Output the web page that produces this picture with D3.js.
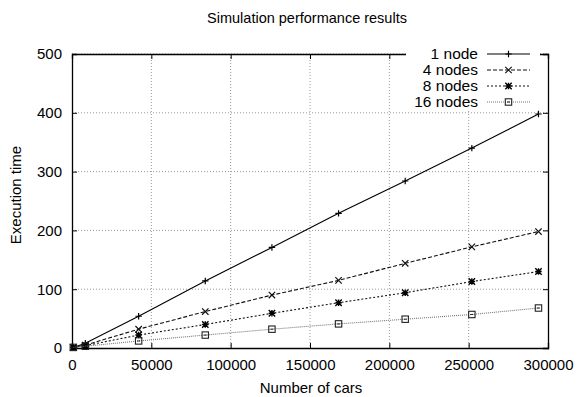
<!DOCTYPE html>
<html><head><meta charset="utf-8">
<script src="https://cdn.jsdelivr.net/npm/d3@7"></script>
<style>body{margin:0;background:#fff}svg{display:block}text{font-family:"Liberation Sans",Arial,sans-serif;fill:#000}</style>
</head><body><svg id="c" width="578" height="397"></svg>
<script>
const cars = [840, 8400, 42000, 84000, 126000, 168000, 210000, 252000, 294000];
const node1 = [1, 8, 54, 114, 171, 229, 284, 340, 398];
const node4 = [1, 5, 32, 62, 90, 115, 144, 172, 198];
const node8 = [1, 4, 22, 40, 59, 77, 94, 113, 130];
const node16 = [1, 3, 12, 22, 32, 41, 49, 57, 68];
const seriesNames = ["1 node", "4 nodes", "8 nodes", "16 nodes"];
const xTicks = [0, 50000, 100000, 150000, 200000, 250000, 300000];
const yTicks = [0, 100, 200, 300, 400, 500];

const svg = d3.select("#c");
const L = 72, R = 548, T = 54, B = 348;
const x = d3.scaleLinear().domain([0, 300000]).range([L, R]);
const y = d3.scaleLinear().domain([0, 500]).range([B, T]);

// grid
const g = svg.append("g");
g.selectAll(".gx").data(xTicks.slice(1, -1)).join("line")
  .attr("x1", d => x(d)).attr("x2", d => x(d)).attr("y1", T).attr("y2", B)
  .attr("stroke", "#999").attr("stroke-width", 1).attr("stroke-dasharray", "1,2");
g.selectAll(".gy").data(yTicks.slice(1, -1).concat([500])).join("line")
  .attr("x1", L).attr("x2", R).attr("y1", d => y(d)).attr("y2", d => y(d))
  .attr("stroke", "#999").attr("stroke-width", 1).attr("stroke-dasharray", "1,2");

// axes with inward ticks
const ax = svg.append("g");
ax.append("g").attr("transform", `translate(0,${B})`)
  .call(d3.axisBottom(x).tickValues(xTicks).tickSize(-5).tickPadding(11).tickFormat(d3.format("d")));
ax.append("g").attr("transform", `translate(0,${T})`)
  .call(d3.axisTop(x).tickValues(xTicks).tickSize(-5).tickFormat(""));
ax.append("g").attr("transform", `translate(${L},0)`)
  .call(d3.axisLeft(y).tickValues(yTicks).tickSize(-5).tickPadding(10).tickFormat(d3.format("d")));
ax.append("g").attr("transform", `translate(${R},0)`)
  .call(d3.axisRight(y).tickValues(yTicks).tickSize(-5).tickFormat(""));
ax.selectAll(".domain").attr("stroke", "#000").attr("stroke-width", 1.3);
ax.selectAll(".tick line").attr("stroke", "#000");
ax.selectAll("text").style("font-size", "15px").attr("font-family", "Liberation Sans, Arial, sans-serif");

const styles = [
  {color: "#000", dash: null, w: 1.1, m: "plus"},
  {color: "#111", dash: "4,2", w: 1.1, m: "cross"},
  {color: "#111", dash: "2,2", w: 1.1, m: "star"},
  {color: "#777", dash: "1,1", w: 1.1, m: "square"}
];
const data = [node1, node4, node8, node16];

function marker(sel, type, cx, cy, col) {
  const s = 3.2;
  if (type === "plus") {
    sel.append("path").attr("d", `M${cx-s},${cy}H${cx+s}M${cx},${cy-s}V${cy+s}`).attr("stroke", col).attr("stroke-width", 1.2);
  } else if (type === "cross") {
    sel.append("path").attr("d", `M${cx-s},${cy-s}L${cx+s},${cy+s}M${cx-s},${cy+s}L${cx+s},${cy-s}`).attr("stroke", col).attr("stroke-width", 1.2);
  } else if (type === "star") {
    sel.append("path").attr("d", `M${cx-s},${cy}H${cx+s}M${cx},${cy-s}V${cy+s}M${cx-s},${cy-s}L${cx+s},${cy+s}M${cx-s},${cy+s}L${cx+s},${cy-s}`).attr("stroke", "#000").attr("stroke-width", 1.4);
  } else {
    sel.append("rect").attr("x", cx-s).attr("y", cy-s).attr("width", 2*s).attr("height", 2*s)
      .attr("fill", "none").attr("stroke", "#222").attr("stroke-width", 1.1);
    sel.append("line").attr("x1", cx-1.5).attr("x2", cx+1.5).attr("y1", cy).attr("y2", cy).attr("stroke", "#222").attr("stroke-width", 1);
  }
}

const line = d3.line().x(d => x(d[0])).y(d => y(d[1]));
data.forEach((vals, i) => {
  const st = styles[i];
  const pts = cars.map((c, j) => [c, vals[j]]);
  svg.append("path").datum(pts).attr("d", line).attr("fill", "none")
    .attr("stroke", st.color).attr("stroke-width", st.w).attr("stroke-dasharray", st.dash);
  const mg = svg.append("g");
  pts.forEach(p => marker(mg, st.m, x(p[0]), y(p[1]), st.color));
});

// legend
const lg = svg.append("g");
lg.append("rect").attr("x", 406).attr("y", 46).attr("width", 134).attr("height", 64).attr("fill", "#fff");
seriesNames.forEach((n, i) => {
  const ly = 54 + i * 16;
  const st = styles[i];
  lg.append("text").attr("x", 478).attr("y", ly).attr("dy", "0.35em").attr("text-anchor", "end")
    .style("font-size", "15.5px").text(n);
  lg.append("line").attr("x1", 487).attr("x2", 530).attr("y1", ly).attr("y2", ly)
    .attr("stroke", st.color).attr("stroke-width", st.w).attr("stroke-dasharray", st.dash);
  marker(lg, st.m, 508.5, ly, st.color);
});

// titles
svg.append("text").attr("x", 307).attr("y", 23).attr("text-anchor", "middle").style("font-size", "14.5px").text("Simulation performance results");
svg.append("text").attr("x", 311).attr("y", 393).attr("text-anchor", "middle").style("font-size", "15px").text("Number of cars");
svg.append("text").attr("transform", "translate(21,195) rotate(-90)").attr("text-anchor", "middle").style("font-size", "15px").text("Execution time");
</script></body></html>
